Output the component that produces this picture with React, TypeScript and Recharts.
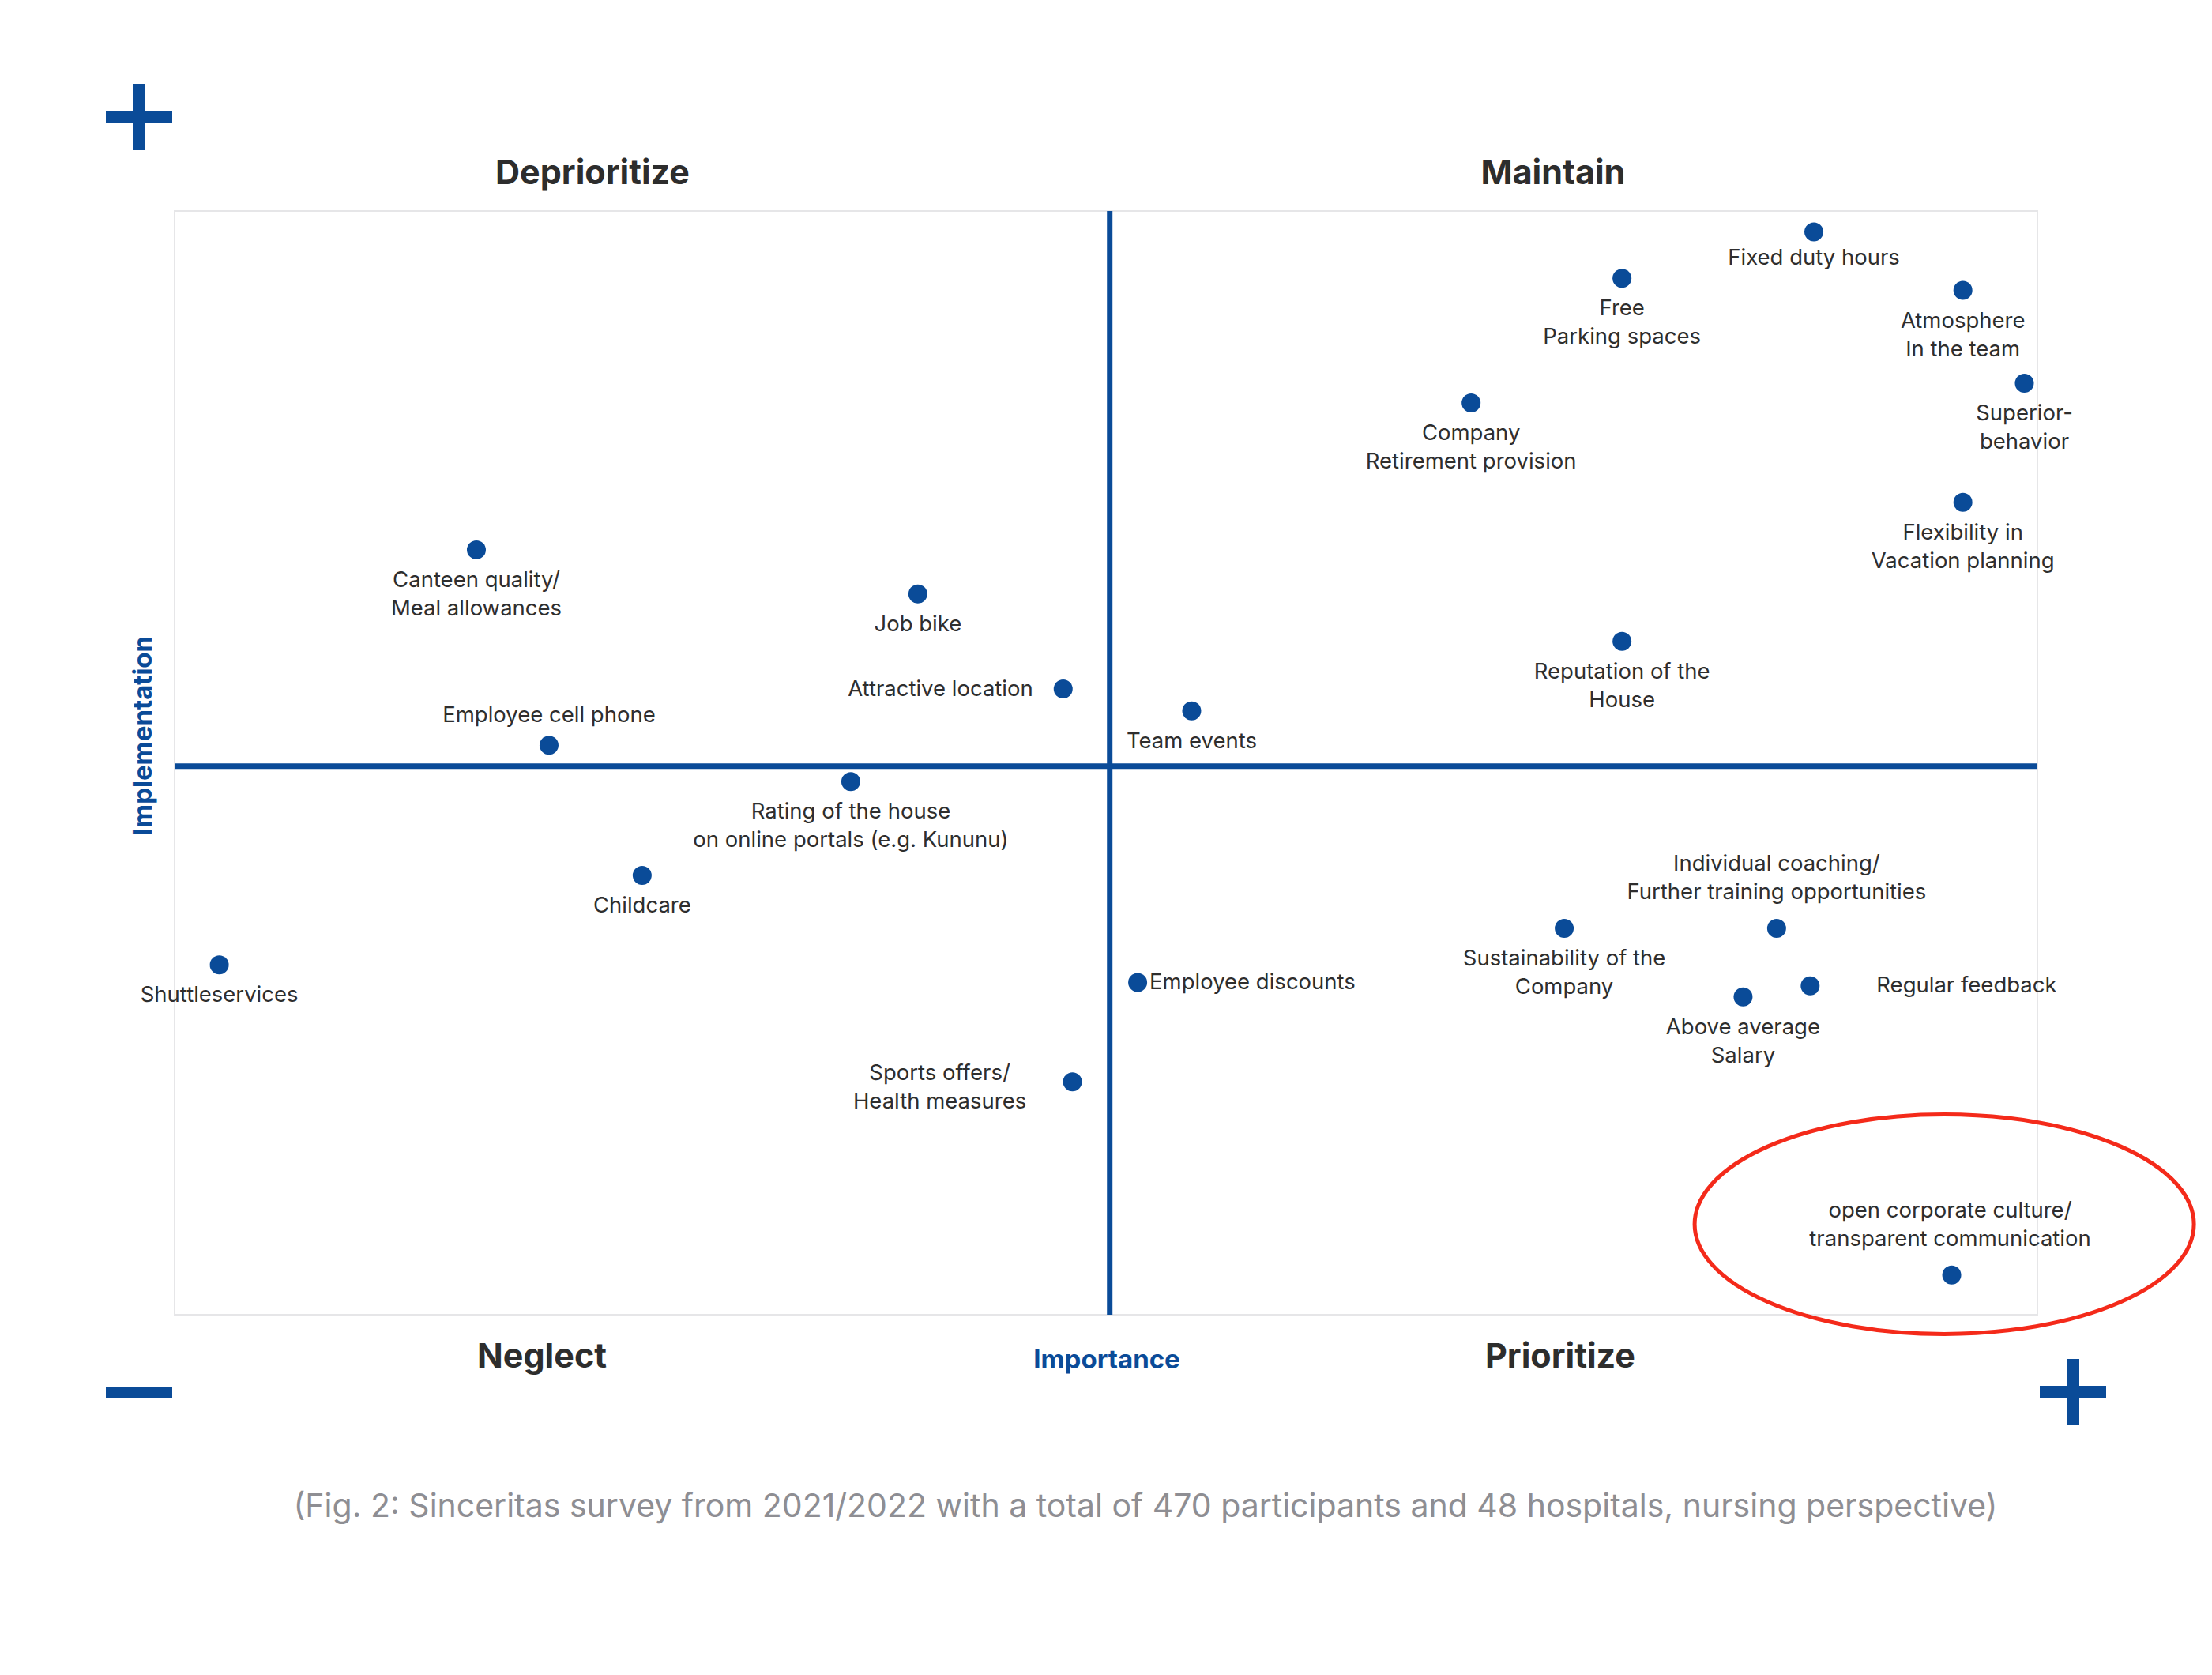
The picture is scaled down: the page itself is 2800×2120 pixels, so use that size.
import React from 'react';
import {
  ScatterChart,
  Scatter,
  XAxis,
  YAxis,
  ReferenceLine,
  ReferenceArea,
  ReferenceDot,
} from 'recharts';

// benefit names (line breaks as in the figure)
const NAMES = [
  'Fixed duty hours',
  'Free\nParking spaces',
  'Atmosphere\nIn the team',
  'Superior-\nbehavior',
  'Company\nRetirement provision',
  'Flexibility in\nVacation planning',
  'Reputation of the\nHouse',
  'Team events',
  'Canteen quality/\nMeal allowances',
  'Job bike',
  'Attractive location',
  'Employee cell phone',
  'Rating of the house\non online portals (e.g. Kununu)',
  'Childcare',
  'Shuttleservices',
  'Employee discounts',
  'Sports offers/\nHealth measures',
  'Sustainability of the\nCompany',
  'Individual coaching/\nFurther training opportunities',
  'Regular feedback',
  'Above average\nSalary',
  'open corporate culture/\ntransparent communication',
];

// x axis: importance (0-100)
const IMPORTANCE = [
  88.0, 77.7, 96.0, 99.3, 69.6, 96.0, 77.7, 54.6, 16.2, 39.9, 47.7,
  20.1, 36.3, 25.1, 2.4, 51.7, 48.2, 74.6, 86.0, 87.8, 84.2, 95.4,
];

// y axis: implementation (0-100)
const IMPLEMENTATION = [
  98.1, 93.9, 92.8, 84.4, 82.6, 73.6, 61.0, 54.7, 69.3, 65.3, 56.7,
  51.6, 48.3, 39.8, 31.7, 30.1, 21.1, 35.0, 35.0, 29.8, 28.8, 3.6,
];

const QUADRANT_X = 50.2;
const QUADRANT_Y = 49.7;
const HIGHLIGHT = { x: 95.0, y: 8.2 };

const BLUE = '#0a4b98';
const FONT = 'Inter, "Noto Sans", sans-serif';

// where each label sits relative to its dot (default: centred below)
const LABEL_POS: Record<string, { anchor?: string; dx?: number; dy?: number }> = {
  'Fixed duty hours': { dy: 41 },
  'Employee cell phone': { dy: -29 },
  'Individual coaching/\nFurther training opportunities': { dy: -73 },
  'open corporate culture/\ntransparent communication': { dy: -73, dx: -2 },
  'Attractive location': { anchor: 'end', dx: -38, dy: 9 },
  'Sports offers/\nHealth measures': { dx: -168, dy: -2 },
  'Employee discounts': { anchor: 'start', dx: 15, dy: 8 },
  'Regular feedback': { anchor: 'start', dx: 84, dy: 8 },
};

const data = NAMES.map((name, i) => ({
  name,
  x: IMPORTANCE[i],
  y: IMPLEMENTATION[i],
}));

const PointWithLabel = (props: any) => {
  const { cx, cy, payload } = props;
  const pos = LABEL_POS[payload.name] || {};
  const anchor = pos.anchor || 'middle';
  const dx = pos.dx ?? 0;
  const dy = pos.dy ?? 47;
  const lines = payload.name.split('\n');
  return (
    <g>
      <circle cx={cx} cy={cy} r={12} fill={BLUE} />
      <text
        x={cx + dx}
        y={cy + dy}
        textAnchor={anchor}
        fontFamily={FONT}
        fontSize={27.5}
        fill="#2e2e2e"
      >
        {lines.map((l: string, i: number) => (
          <tspan key={i} x={cx + dx} dy={i === 0 ? 0 : 36}>
            {l}
          </tspan>
        ))}
      </text>
    </g>
  );
};

const Ellipse = (props: any) => (
  <ellipse
    cx={props.cx}
    cy={props.cy}
    rx={316}
    ry={139}
    fill="none"
    stroke="#f42a1a"
    strokeWidth={5}
  />
);

const titleStyle = {
  fontFamily: FONT,
  fontSize: 43,
  fontWeight: 700,
  fill: '#2d2d2d',
};

export default function App() {
  return (
    <div style={{ position: 'absolute', left: 0, top: 0, width: 2800, height: 2120, background: '#fff' }}>
      <ScatterChart
        width={2800}
        height={2120}
        margin={{ top: 267, right: 221, bottom: 456, left: 221 }}
      >
        <XAxis type="number" dataKey="x" domain={[0, 100]} hide />
        <YAxis type="number" dataKey="y" domain={[0, 100]} hide />
        <ReferenceArea
          x1={0}
          x2={100}
          y1={0}
          y2={100}
          fill="none"
          stroke="#e6e6e8"
          strokeWidth={2}
        />
        <ReferenceLine x={QUADRANT_X} stroke={BLUE} strokeWidth={7} />
        <ReferenceLine y={QUADRANT_Y} stroke={BLUE} strokeWidth={7} />
        <Scatter
          data={data}
          shape={PointWithLabel}
          isAnimationActive={false}
        />
        <ReferenceDot
          x={HIGHLIGHT.x}
          y={HIGHLIGHT.y}
          ifOverflow="visible"
          shape={Ellipse}
        />
      </ScatterChart>

      <svg
        width={2800}
        height={2120}
        style={{ position: 'absolute', left: 0, top: 0, pointerEvents: 'none' }}
      >
        {/* plus / minus markers */}
        <rect x={134} y={140} width={84} height={16} fill={BLUE} />
        <rect x={168} y={106} width={16} height={84} fill={BLUE} />
        <rect x={134} y={1755} width={84} height={15} fill={BLUE} />
        <rect x={2582} y={1754} width={84} height={16} fill={BLUE} />
        <rect x={2616} y={1720} width={16} height={84} fill={BLUE} />

        {/* quadrant names */}
        <text x={750} y={233} textAnchor="middle" style={titleStyle}>Deprioritize</text>
        <text x={1966} y={233} textAnchor="middle" style={titleStyle}>Maintain</text>
        <text x={686} y={1731} textAnchor="middle" style={titleStyle}>Neglect</text>
        <text x={1975} y={1731} textAnchor="middle" style={titleStyle}>Prioritize</text>

        {/* axis names */}
        <text
          x={1401}
          y={1732}
          textAnchor="middle"
          fontFamily={FONT}
          fontSize={33}
          fontWeight={700}
          fill={BLUE}
        >
          Importance
        </text>
        <text
          x={192}
          y={931}
          textAnchor="middle"
          transform="rotate(-90, 192, 931)"
          fontFamily={FONT}
          fontSize={33}
          fontWeight={700}
          fill={BLUE}
        >
          Implementation
        </text>

        <text
          x={1450}
          y={1920}
          textAnchor="middle"
          fontFamily={FONT}
          fontSize={41}
          fill="#8e8e93"
        >
          (Fig. 2: Sinceritas survey from 2021/2022 with a total of 470 participants and 48 hospitals, nursing perspective)
        </text>
      </svg>
    </div>
  );
}
